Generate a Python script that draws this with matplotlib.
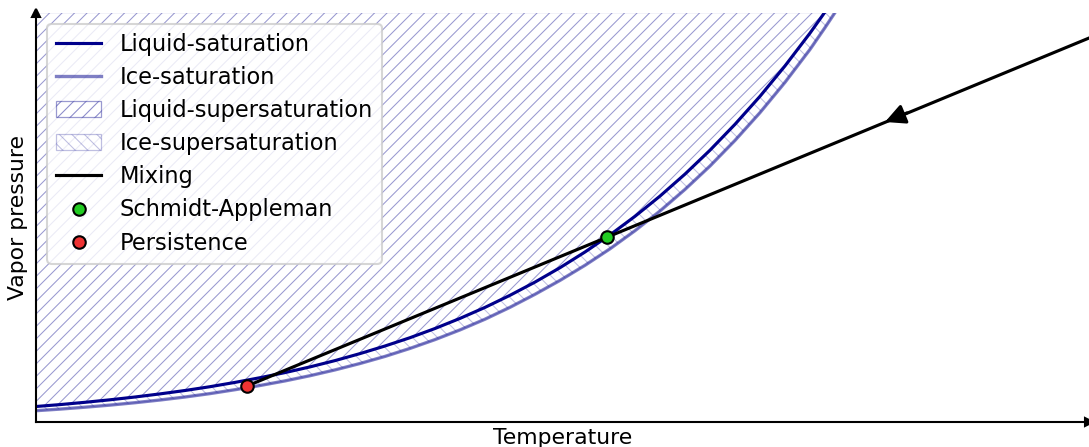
# sketch of the mixing line vs saturation curves (contrail formation)
import matplotlib.pyplot as plt
from matplotlib.lines import Line2D
from matplotlib.patches import Patch

# temperature (arbitrary units) and vapour pressure
temp_liquid = [36, 60, 85, 110, 135, 160, 185, 210, 235, 260, 285, 310, 335, 360, 385,
               410, 435, 460, 485, 510, 535, 560, 585, 610, 635, 660, 685, 710, 735,
               760, 785, 810, 825]
p_liquid = [15.5, 17.4, 19.7, 22.2, 25.0, 28.1, 31.5, 35.3, 39.6, 44.3, 49.4, 55.1,
            61.4, 68.4, 76.0, 84.3, 93.5, 103.6, 114.6, 126.7, 139.9, 154.3, 170.0,
            187.1, 205.7, 225.9, 247.9, 271.8, 297.7, 325.7, 356.1, 388.9, 410.0]
temp_ice = temp_liquid + [835]
p_ice = [11.3, 12.9, 14.8, 16.9, 19.3, 22.0, 25.0, 28.4, 32.3, 36.5, 41.1, 46.3,
         52.1, 58.5, 65.6, 73.6, 82.4, 92.1, 102.8, 114.7, 127.7, 141.6, 156.7,
         173.2, 191.3, 211.0, 232.6, 256.0, 281.6, 309.4, 339.7, 372.6, 394.4, 409.5]

mix_temp = [247, 1100]
mix_p = [36.0, 388.5]
arrow_tail = (907, 309.1)
arrow_tip = (885, 300.0)

schmidt_appleman = (607, 185.0)
persistence = (247, 36.0)

x_range = (36, 1089)
p_top = 409.5

blue = "darkblue"
plt.rcParams["hatch.linewidth"] = 0.5

fig = plt.figure(figsize=(1089 / 150, 447 / 150), dpi=150)
ax = fig.add_axes([36 / 1089, 25 / 447, 1053 / 1089, 409.5 / 447])

ax.fill_between(temp_ice, p_ice, [p_top] * len(temp_ice), facecolor="none",
                edgecolor=blue, hatch="\\\\\\\\", alpha=0.25, linewidth=0.6)
ax.fill_between(temp_liquid, p_liquid, [p_top] * len(temp_liquid),
                facecolor="white", linewidth=0)
ax.fill_between(temp_liquid, p_liquid, [p_top] * len(temp_liquid), facecolor="none",
                edgecolor=blue, hatch="////", alpha=0.4, linewidth=0.6)

ax.plot(temp_liquid, p_liquid, color=blue, lw=1.5)
ax.plot(temp_ice, p_ice, color=blue, alpha=0.5, lw=1.6)
ax.plot(mix_temp, mix_p, color="k", lw=1.5)
ax.annotate("", xy=arrow_tip, xytext=arrow_tail,
            arrowprops=dict(arrowstyle="-|>", color="k", lw=1.5,
                            mutation_scale=20, shrinkA=0, shrinkB=0))

ax.plot(*schmidt_appleman, "o", color="#22cc22", mec="k", ms=6, mew=1, zorder=5)
ax.plot(*persistence, "o", color="#ee3333", mec="k", ms=6, mew=1, zorder=5)

ax.set_xlim(*x_range)
ax.set_ylim(0, p_top)
ax.set_xticks([])
ax.set_yticks([])
for s in ["top", "right"]:
    ax.spines[s].set_visible(False)
for s in ["left", "bottom"]:
    ax.spines[s].set_linewidth(1.0)
ax.plot(1, 0, ">k", ms=4, transform=ax.transAxes, clip_on=False)
ax.plot(0, 1, "^k", ms=4, transform=ax.transAxes, clip_on=False)

ax.set_xlabel("Temperature", fontsize=10.5, labelpad=3)
ax.set_ylabel("Vapor pressure", fontsize=10.5, labelpad=4)

handles = [
    Line2D([], [], color=blue, lw=1.5),
    Line2D([], [], color=blue, alpha=0.5, lw=1.6),
    Patch(facecolor="none", edgecolor=blue, hatch="////", alpha=0.4, lw=0.6),
    Patch(facecolor="none", edgecolor=blue, hatch="\\\\\\\\", alpha=0.25, lw=0.6),
    Line2D([], [], color="k", lw=1.5),
    Line2D([], [], ls="none", marker="o", color="#22cc22", mec="k", ms=6),
    Line2D([], [], ls="none", marker="o", color="#ee3333", mec="k", ms=6),
]
labels = ["Liquid-saturation", "Ice-saturation", "Liquid-supersaturation",
          "Ice-supersaturation", "Mixing", "Schmidt-Appleman", "Persistence"]
ax.legend(handles, labels, loc="upper left", fontsize=10.8, labelspacing=0.45)

fig.savefig("out.png", dpi=150)
